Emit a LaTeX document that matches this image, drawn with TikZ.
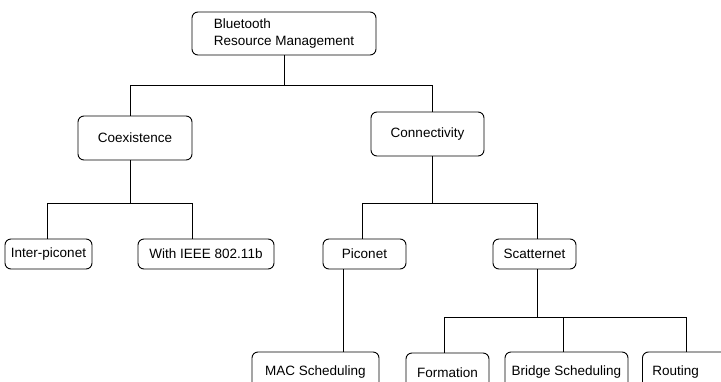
\documentclass[tikz,border=0pt]{standalone}
\usepackage{fontspec}
\setmainfont{Liberation Sans}
\begin{document}
\begin{tikzpicture}[x=1pt,y=-1pt,
  box/.style={draw, rounded corners=6pt, line width=0.9pt, inner sep=0pt,
    font=\fontsize{13.5}{17}\selectfont},
  link/.style={line width=0.75pt}]
\useasboundingbox (0,0) rectangle (721,381);
\clip (0,0) rectangle (721,381);

% level 0
\node[box, minimum width=184pt, minimum height=43pt, align=left] (root) at (284,33.5)
  {Bluetooth\\Resource Management};
% level 1
\node[box, minimum width=114pt, minimum height=44pt] (coex) at (135,138) {Coexistence};
\node[box, minimum width=113pt, minimum height=44pt] (conn) at (427.5,134) {Connectivity};
% level 2
\node[box, minimum width=87pt, minimum height=30pt] (inter) at (48.5,254) {Inter-piconet};
\node[box, minimum width=136pt, minimum height=30pt] (ieee) at (206,254) {With IEEE 802.11b};
\node[box, minimum width=83pt, minimum height=30pt] (pico) at (364.5,254) {Piconet};
\node[box, minimum width=83pt, minimum height=30pt] (scat) at (534.5,254) {Scatternet};
% level 3
\node[box, minimum width=127pt, minimum height=40pt] (mac) at (315.5,372) {MAC Scheduling};
\node[box, minimum width=83pt, minimum height=40pt] (form) at (447.5,373) {Formation};
\node[box, minimum width=123pt, minimum height=40pt] (bridge) at (566.5,372) {Bridge Scheduling};
\node[box, minimum height=40pt, inner xsep=10pt, text width=76pt, align=left, anchor=west]
  (route) at (642,372) {Routing};

% bus levels
\coordinate (bus1) at (0,85);
\coordinate (bus2) at (0,203.5);
\coordinate (bus3) at (0,317);

% root to level 1
\draw[link] (root.south) -- (root.south |- bus1);
\draw[link] ([xshift=-5pt]coex.north) -- ([xshift=-5pt]coex.north |- bus1)
  -- ([xshift=4.5pt]conn.north |- bus1) -- ([xshift=4.5pt]conn.north);

% coexistence branch
\draw[link] ([xshift=-5pt]coex.south) -- ([xshift=-5pt]coex.south |- bus2);
\draw[link] ([xshift=-1.5pt]inter.north) -- ([xshift=-1.5pt]inter.north |- bus2)
  -- ([xshift=-14pt]ieee.north |- bus2) -- ([xshift=-14pt]ieee.north);

% connectivity branch
\draw[link] ([xshift=4.5pt]conn.south) -- ([xshift=4.5pt]conn.south |- bus2);
\draw[link] ([xshift=-2.5pt]pico.north) -- ([xshift=-2.5pt]pico.north |- bus2)
  -- ([xshift=2.5pt]scat.north |- bus2) -- ([xshift=2.5pt]scat.north);

% piconet branch
\draw[link] ([xshift=-21.5pt]pico.south) -- ([xshift=-21.5pt]pico.south |- mac.north);

% scatternet branch
\draw[link] ([xshift=2.5pt]scat.south) -- ([xshift=2.5pt]scat.south |- bus3);
\draw[link] ([xshift=-3.5pt]form.north) -- ([xshift=-3.5pt]form.north |- bus3)
  -- ([xshift=-4pt]route.north |- bus3) -- ([xshift=-4pt]route.north);
\draw[link] ([xshift=-3.5pt]bridge.north) -- ([xshift=-3.5pt]bridge.north |- bus3);
\end{tikzpicture}
\end{document}
